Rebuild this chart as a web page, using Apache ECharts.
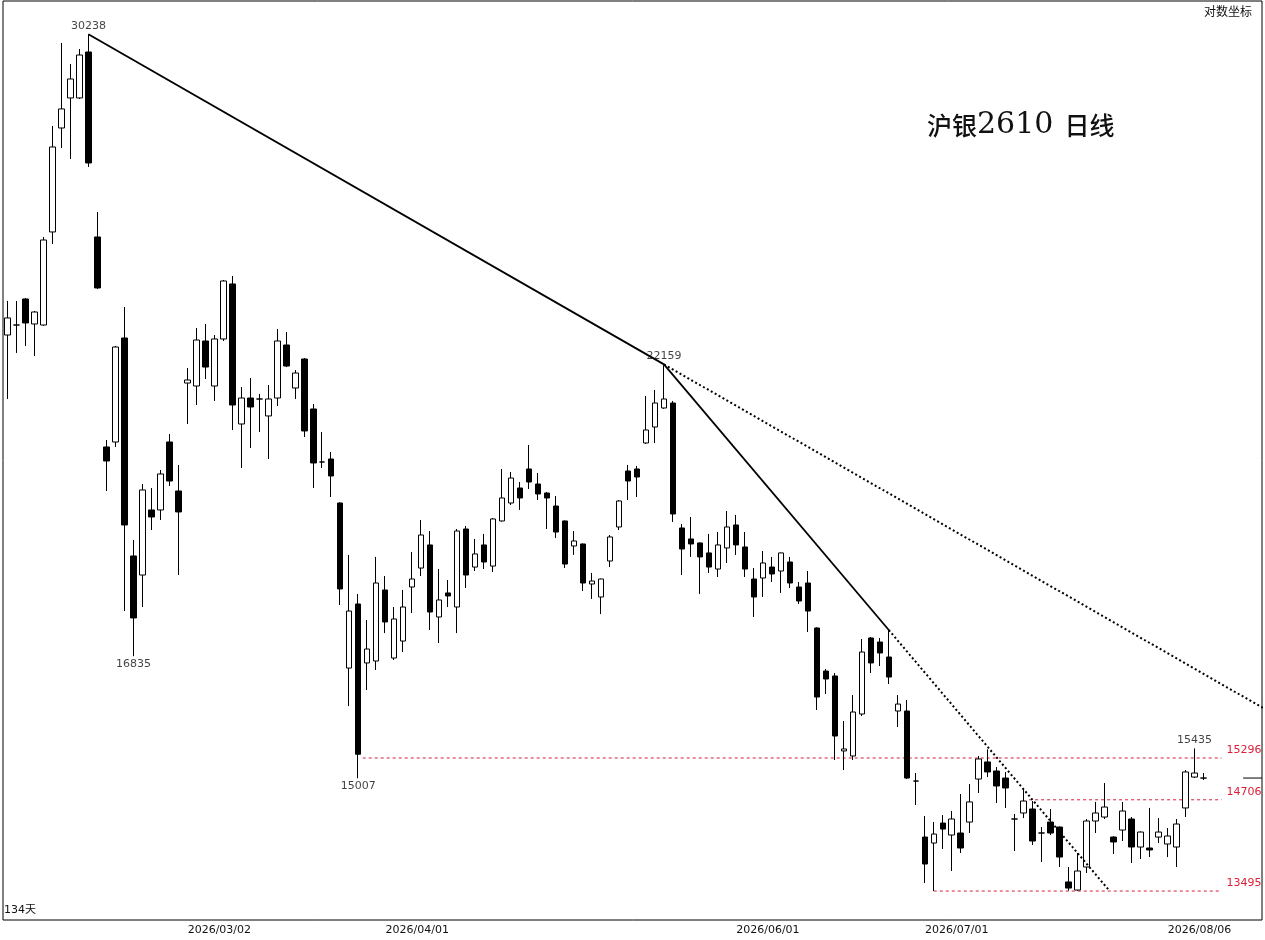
<!DOCTYPE html>
<html><head><meta charset="utf-8">
<script src="https://cdn.jsdelivr.net/npm/echarts@6/dist/echarts.min.js"></script>
<style>html,body{margin:0;padding:0;background:#fff}#c{width:1265px;height:940px}</style>
</head><body><div id="c"></div>
<script>
const opens = [22780,22996,23566,23018,22996,25101,27683,28477,28477,29736,
24983,20501,20597,22716,18501,18172,19320,19320,20597,19668,
21773,21712,22652,21712,22695,23902,20949,21468,21448,21108,
21468,22567,21671,22271,21247,20213,20270,19447,16648,17683,
16728,16759,17918,16806,17077,17968,18292,18694,17468,17868,
17633,18977,18309,18694,18326,19121,19447,19724,20080,19798,
19631,19392,19121,18676,18711,18019,17800,18414,19013,20042,
20080,20578,20890,21267,21367,18995,18800,18729,18554,18275,
18641,19049,18658,18104,18121,18309,18241,18396,17968,18036,
17288,16601,16524,15398,15325,15943,17126,17061,16822,15988,
15988,14968,14199,14119,14387,14226,14253,14401,14996,15239,
15110,15010,14442,14524,14579,14253,14401,14333,13611,13508,
13804,14415,14469,14199,14293,14442,14066,14053,14199,14106,
14066,14593,15024,15010];
const closes = [23149,22996,23040,23279,24912,27192,28184,28990,29652,26786,
23812,20232,22524,19049,17452,19687,19193,19986,19854,19284,
21835,22673,22103,22695,23969,21327,21468,21287,21448,21448,
22652,22124,21979,20812,20194,20213,19948,17935,17566,15350,
16949,18036,17386,17435,17633,18104,18870,17550,17750,17817,
18941,18172,18536,18396,19157,19539,19910,19539,19835,19613,
19539,18923,18361,18764,18036,18070,18104,18835,19484,19854,
19929,20831,21367,21448,19247,18623,18711,18484,18309,18694,
19013,18694,18275,17800,18379,18190,18554,18036,17733,17566,
16200,16477,15616,15427,15973,16901,16728,16886,16508,16093,
15010,14968,13843,14239,14306,14442,14053,14676,15282,15096,
14898,14870,14442,14689,14146,14253,14253,13934,13533,13752,
14415,14524,14606,14133,14551,14066,14266,14027,14266,14213,
14374,15096,15081,15010];
const lows = [21448,22398,22546,22334,22980,24819,27166,26887,28450,26685,
23790,19668,20501,17566,16835,17633,18959,19139,19761,18172,
20949,21327,21855,21408,22652,20831,20099,20482,20792,20270,
21307,22103,21448,20694,19724,20099,19557,17666,16063,15007,
16307,16617,17206,16775,16901,17533,18155,17255,17045,17633,
17206,17951,18241,18275,18224,19110,19410,19320,19705,19502,
18977,18817,18292,18519,17901,17767,17516,18309,18959,19502,
19557,20560,20578,21250,19103,18172,18484,17851,18207,18138,
18379,18519,18138,17468,17800,18053,17868,17951,17683,17222,
16003,16246,15267,15124,15267,15913,16570,16680,16400,15749,
14996,14634,13598,13495,14040,13752,13987,14253,14800,15024,
14662,14593,14013,14455,14093,13869,14226,13804,13500,13500,
13726,14253,14442,13974,14146,13856,13908,13934,14119,13934,
13804,14469,15010,14982];
const highs = [23522,23522,23588,23300,24983,27735,29991,29402,29820,30238,
25579,20636,22546,23389,18782,19798,19724,20061,20753,20156,
22082,22931,23018,22780,23992,24082,21691,21876,21550,21732,
22910,22845,22041,22290,21347,20792,20404,19460,18519,17851,
17419,18484,18155,17633,17918,18571,19139,18941,18275,18087,
18977,19031,18800,18888,19175,20080,20023,19835,20539,20004,
19650,19576,19130,18941,18720,18207,18110,18870,19502,20156,
20137,21509,21630,22159,21408,19067,19193,18740,18888,18923,
19302,19229,18923,18292,18588,18484,18560,18484,18053,18241,
17300,16633,16570,15838,16230,17109,17142,17126,17255,16230,
16154,15081,14482,14401,14496,14551,14786,14926,15325,15420,
15167,15096,14510,14856,14689,14333,14579,14340,13804,13987,
14442,14676,14940,14210,14676,14469,14275,14593,14455,14320,
14442,15124,15435,15081];

const slotCount = 140;
const dateLabels = ['2026/03/02','2026/04/01','2026/06/01','2026/07/01','2026/08/06'];
const dateLabelIdx = [23,45,84,105,132];
const levelValues = [15296,14706,13495];
const levelStarts = [39.5,113.6,103];
const levelEnd = 135;
const trendA = [9,30238], trendB = [73,22159], trendC = [98,17255];
const highMarks = [9,73,132];
const lowMarks = [14,39];

const categories = Array.from({length: slotCount}, (_, i) => {
  const k = dateLabelIdx.indexOf(i);
  return k >= 0 ? dateLabels[k] : 'd' + i;
});
const candleData = opens.map((o, i) => [o, closes[i], lows[i], highs[i]]);

function logAt(a, b, x) {
  const la = Math.log(a[1]), lb = Math.log(b[1]);
  return Math.exp(la + (lb - la) * (x - a[0]) / (b[0] - a[0]));
}
function xAtPrice(a, b, p) {
  const la = Math.log(a[1]), lb = Math.log(b[1]);
  return a[0] + (Math.log(p) - la) * (b[0] - a[0]) / (lb - la);
}
const ext1X = 170;
const ext2X = xAtPrice(trendB, trendC, levelValues[2]);

const FONT = 'DejaVu Sans, Noto Sans CJK SC, sans-serif';
const RED = '#d9213a';

const series = [
  {
    type: 'candlestick', xAxisIndex: 0, yAxisIndex: 0, data: candleData,
    barWidth: 6,
    itemStyle: { color: '#ffffff', color0: '#000000', borderColor: '#000000', borderColor0: '#000000', borderWidth: 1 },
    z: 3
  },
  { type: 'line', xAxisIndex: 1, symbol: 'none', silent: true, z: 4,
    data: [trendA, trendB], lineStyle: { color: '#000', width: 1.8 } },
  { type: 'line', xAxisIndex: 1, symbol: 'none', silent: true, z: 4,
    data: [trendB, [ext1X, logAt(trendA, trendB, ext1X)]], lineStyle: { color: '#000', width: 2, type: [2, 2.5] } },
  { type: 'line', xAxisIndex: 1, symbol: 'none', silent: true, z: 4,
    data: [trendB, trendC], lineStyle: { color: '#000', width: 1.8 } },
  { type: 'line', xAxisIndex: 1, symbol: 'none', silent: true, z: 4,
    data: [trendC, [ext2X, levelValues[2]]], lineStyle: { color: '#000', width: 2, type: [2, 2.5] } },
  { type: 'line', xAxisIndex: 1, symbol: 'none', silent: true, z: 4,
    data: [[137.4, closes[closes.length - 1]], [139.5, closes[closes.length - 1]]], lineStyle: { color: '#000', width: 1 } },
  {
    type: 'scatter', xAxisIndex: 0, symbolSize: 1, itemStyle: { color: 'rgba(0,0,0,0)' }, z: 5,
    data: highMarks.map(i => [i, highs[i]]),
    label: { show: true, position: 'top', distance: 2, color: '#111', fontSize: 11, fontFamily: FONT,
      formatter: p => String(p.value[1]) }
  },
  {
    type: 'scatter', xAxisIndex: 0, symbolSize: 1, itemStyle: { color: 'rgba(0,0,0,0)' }, z: 5,
    data: lowMarks.map(i => [i, lows[i]]),
    label: { show: true, position: 'bottom', distance: 2, color: '#111', fontSize: 11, fontFamily: FONT,
      formatter: p => String(p.value[1]) }
  }
];
levelValues.forEach((v, k) => {
  series.push({
    type: 'line', xAxisIndex: 1, symbol: 'none', silent: true, z: 2,
    data: [[levelStarts[k], v], [levelEnd, v]],
    lineStyle: { color: RED, width: 1, type: [3, 3] },
    endLabel: { show: true, distance: 5, offset: [0, -7.5], color: RED, fontSize: 11, fontFamily: FONT,
      formatter: () => String(v) }
  });
});

const chart = echarts.init(document.getElementById('c'), null, { renderer: 'canvas' });
chart.setOption({
  animation: false,
  backgroundColor: '#fff',
  grid: { left: 3, right: 3, top: 1, bottom: 20, show: true, borderColor: '#000', borderWidth: 1, backgroundColor: '#fff' },
  xAxis: [
    { type: 'category', data: categories, boundaryGap: true,
      axisLine: { show: false }, axisTick: { show: false }, splitLine: { show: false },
      axisLabel: { interval: (i) => dateLabelIdx.indexOf(i) >= 0, color: '#111', fontSize: 11, fontFamily: FONT,
        margin: 5, padding: [0, 0, 0, 10], hideOverlap: false } },
    { type: 'value', min: -0.5, max: slotCount - 0.5, show: false }
  ],
  yAxis: [
    { type: 'log', logBase: 10, min: 13132, max: 31199, show: false, splitLine: { show: false } }
  ],
  graphic: [
    { type: 'text', left: 4, top: 905, style: { text: '134天', fill: '#111', font: '11px DejaVu Sans, Noto Sans CJK SC' } },
    { type: 'text', right: 13, top: 5, style: { text: '对数坐标', fill: '#111', font: '12px Noto Sans CJK SC' } },
    { type: 'text', left: 927, top: 110, style: {
        text: '{a|沪银}{b|2610}{a|  日线}',
        rich: {
          a: { fontSize: 25, fontFamily: 'Noto Sans CJK SC', fill: '#111', fontWeight: 500 },
          b: { fontSize: 30, fontFamily: 'DejaVu Serif', fill: '#111' }
        }
    } }
  ],
  series
});
</script>
</body></html>
